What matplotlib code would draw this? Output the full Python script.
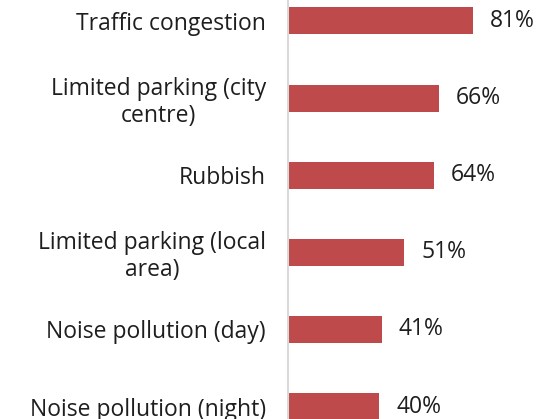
import matplotlib.pyplot as plt

categories = [
    "Traffic congestion",
    "Limited parking (city\ncentre)",
    "Rubbish",
    "Limited parking (local\narea)",
    "Noise pollution (day)",
    "Noise pollution (night)",
]
values = [81, 66, 64, 51, 41, 40]

plt.rcParams["font.family"] = ["Open Sans", "DejaVu Sans"]

fig = plt.figure(figsize=(5.39, 4.19), dpi=100)
ax = fig.add_axes([288 / 539, 0, 251 / 539, 1])

ypos = list(range(len(categories)))
ax.barh(ypos, values, height=0.35, color="#be4a4b")
for y, v in zip(ypos, values):
    ax.text(v + 7.5, y, f"{v}%", va="center", ha="left", fontsize=16.5, color="#1e1e1e")

ax.set_xlim(0, 110)
ax.set_ylim(5.162, -0.272)
ax.set_yticks(ypos)
ax.set_yticklabels(categories, fontsize=16.5, color="#1e1e1e",
                   multialignment="center", linespacing=1.15)
ax.tick_params(axis="y", length=0, pad=16)
ax.set_xticks([])
for s in ["top", "right", "bottom"]:
    ax.spines[s].set_visible(False)
ax.spines["left"].set_color("#d9d9d9")
ax.spines["left"].set_linewidth(1.5)

fig.savefig("out.png", dpi=100)
